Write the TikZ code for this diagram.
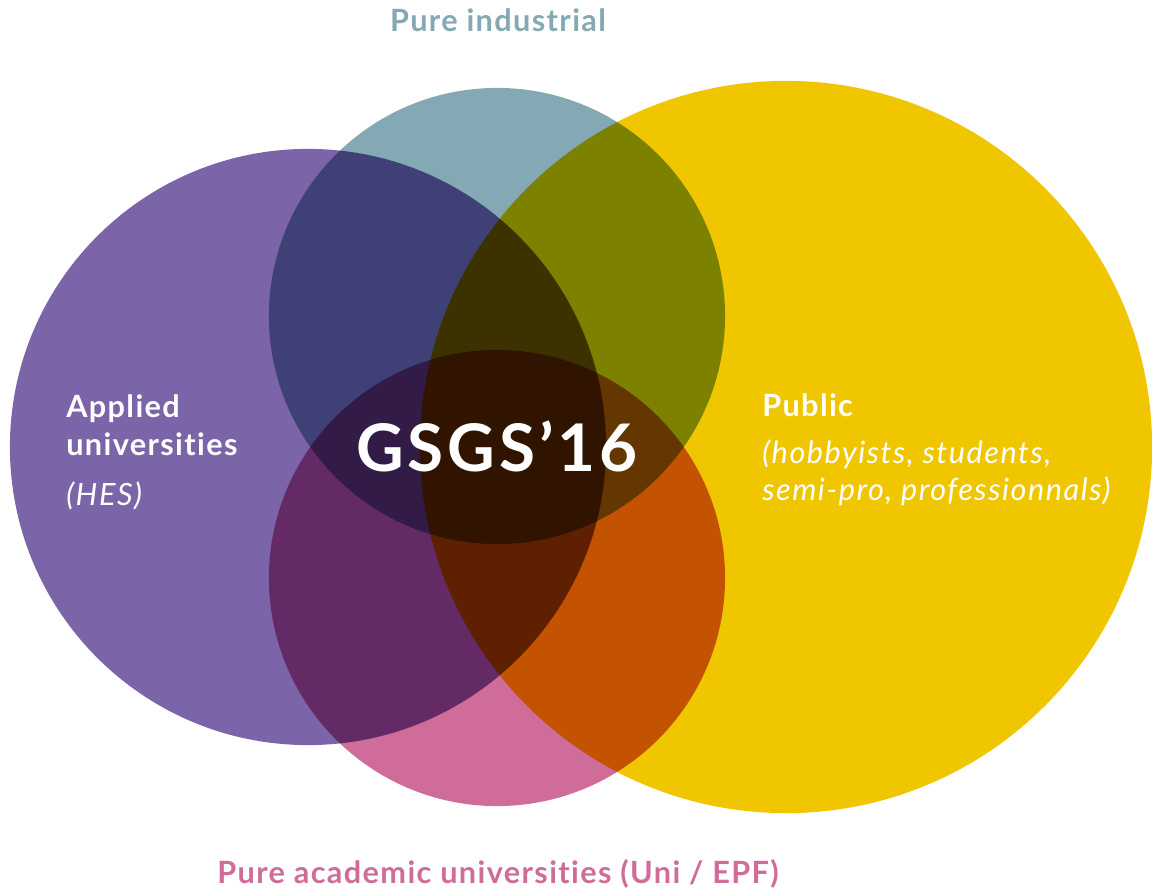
\documentclass[tikz,border=0pt]{standalone}
\usepackage{fontspec}
\setmainfont{Lato}[Ligatures=NoCommon]
\definecolor{gsPurple}{HTML}{7B64A8}
\definecolor{gsTeal}{HTML}{84A8B4}
\definecolor{gsPink}{HTML}{D06C9A}
\definecolor{gsYellow}{HTML}{F0C600}

\begin{document}
\begin{tikzpicture}
[x=0.025cm,y=0.025cm,
  setDecorate/.style={shape=circle,inner sep=0pt,blend mode=multiply},%
  labelDecorate/.style={inner sep=0pt,
    font=\fontsize{21.8}{26}\selectfont\bfseries\addfontfeature{LetterSpace=4.5}},%
  noteDecorate/.style={inner sep=0pt,
    font=\fontsize{21.8}{26}\selectfont\itshape\addfontfeature{LetterSpace=5}}]
\useasboundingbox[fill=white] (0,0) rectangle (1152,890);
%% sets
\foreach \nodename/\x/\y/\r/\col in {
  applied/308/443/298/gsPurple,
  industrial/497/574/228/gsTeal,
  academic/497/312/228/gsPink,
  public/786/443/366/gsYellow}
{
  \node (\nodename) at (\x,\y) [setDecorate,fill=\col,minimum size=\r*0.05cm] {};
}
%% titles outside
\node (indTitle) at (498,858) [labelDecorate,anchor=base,text=gsTeal] {Pure industrial};
\node (acaTitle) at (498,7) [labelDecorate,anchor=base,text=gsPink] {Pure academic universities (Uni / EPF)};
%% titles inside
\node (appA) at (66,472) [labelDecorate,anchor=base west,text=white] {Applied};
\node (appB) at (66,434) [labelDecorate,anchor=base west,text=white] {universities};
\node (appC) at (66,384) [noteDecorate,anchor=base west,text=white] {(HES)};
\node (pubA) at (762,473) [labelDecorate,anchor=base west,text=white] {Public};
\node (pubB) at (762,426) [noteDecorate,anchor=base west,text=white] {(hobbyists, students,};
\node (pubC) at (762,389) [noteDecorate,anchor=base west,text=white] {semi-pro, professionnals)};
%% centre
\node (gsgs) at (497,418) [anchor=base,inner sep=0pt,text=white,
  font=\fontsize{46.7}{50}\selectfont\bfseries\addfontfeature{LetterSpace=6}] {GSGS’16};
\end{tikzpicture}
\end{document}
